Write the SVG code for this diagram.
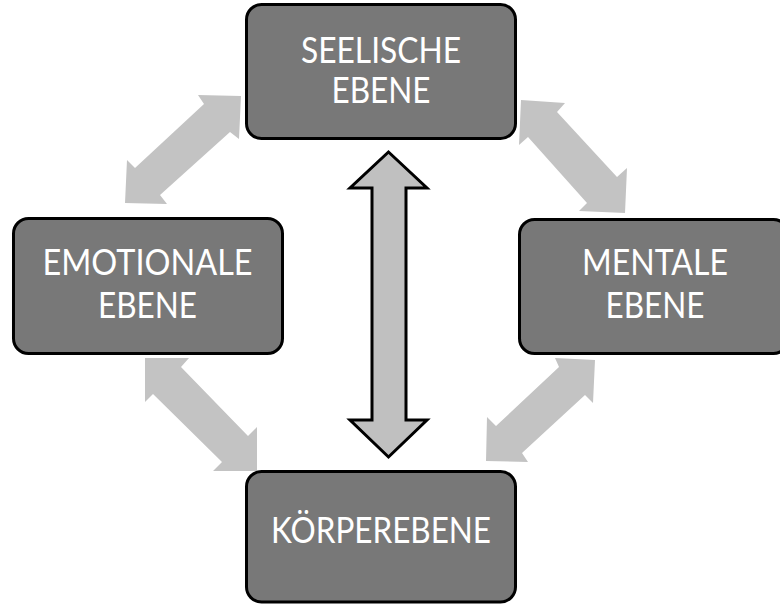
<svg xmlns="http://www.w3.org/2000/svg" width="780" height="604" viewBox="0 0 780 604">
<style>
.box{fill:#787878;stroke:#000;stroke-width:3}
.lbl{fill:#fff;font-family:Lato,"Liberation Sans",sans-serif;font-size:36px;font-weight:400;text-anchor:middle}
.darr{fill:#c3c3c3;stroke:none}
.varr{fill:#c0c0c0;stroke:#000;stroke-width:3;stroke-linejoin:miter}
</style>
<rect width="780" height="604" fill="#fff"/>
<g id="connectors">
<polygon class="darr" points="241,96 239,139 230,132 160,195 167,204 125,203 127,160 135,168 204,104 198,95"/>
<polygon class="darr" points="521,100 565,103 557,112 617,177 627,168 625,213 579,211 587,203 528,137 519,145"/>
<polygon class="darr" points="145,358 189,358 181,367 248,436 257,427 257,471 213,471 222,462 153,394 145,402"/>
<polygon class="darr" points="595,360 593,403 585,395 522,453 528,462 486,461 487,417 496,426 559,367 555,358"/>
<polygon class="varr" points="388.5,152 427,188 406,188 406,420 427,420 388.5,457 350,420 372,420 372,188 350,188"/>
</g>
<g id="seelische">
<rect class="box" x="246.5" y="4.5" width="269" height="134" rx="15"/>
<text class="lbl" x="381" y="63" textLength="160" lengthAdjust="spacingAndGlyphs">SEELISCHE</text>
<text class="lbl" x="381" y="103" textLength="99" lengthAdjust="spacingAndGlyphs">EBENE</text>
</g>
<g id="emotionale">
<rect class="box" x="13.5" y="218.5" width="269" height="135" rx="15"/>
<text class="lbl" x="147.5" y="275" textLength="210" lengthAdjust="spacingAndGlyphs">EMOTIONALE</text>
<text class="lbl" x="147.5" y="318" textLength="99" lengthAdjust="spacingAndGlyphs">EBENE</text>
</g>
<g id="mentale">
<rect class="box" x="519.5" y="219.5" width="269" height="134" rx="15"/>
<text class="lbl" x="655" y="275" textLength="146" lengthAdjust="spacingAndGlyphs">MENTALE</text>
<text class="lbl" x="655" y="318" textLength="99" lengthAdjust="spacingAndGlyphs">EBENE</text>
</g>
<g id="koerperebene">
<rect class="box" x="246.5" y="471.5" width="269" height="130.5" rx="15"/>
<text class="lbl" x="381" y="543" textLength="220" lengthAdjust="spacingAndGlyphs">KÖRPEREBENE</text>
</g>
</svg>
